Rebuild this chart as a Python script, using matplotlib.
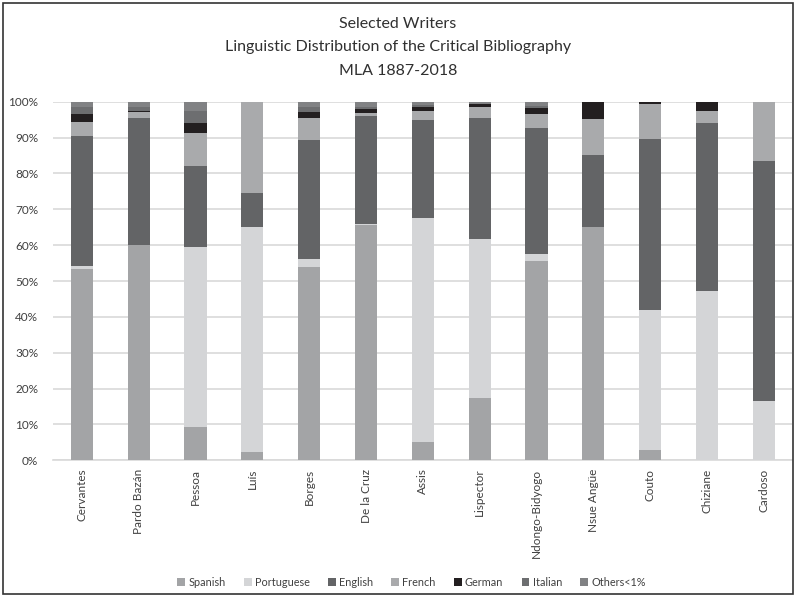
import numpy as np
import matplotlib
matplotlib.use("Agg")
import matplotlib.pyplot as plt
import matplotlib.patches as patches

plt.rcParams['font.family'] = ['Lato', 'DejaVu Sans']

writers = ["Cervantes", "Pardo Bazán", "Pessoa", "Luís", "Borges", "De la Cruz",
           "Assis", "Lispector", "Ndongo-Bidyogo", "Nsue Angüe", "Couto",
           "Chiziane", "Cardoso"]

# percent of the critical bibliography per language
spanish    = [53.4, 60.1,  9.4,  2.3, 53.9, 65.5,  5.0, 17.3, 55.6, 65.0,  2.9,  0.0,  0.0]
portuguese = [ 0.8,  0.0, 50.2, 62.7,  2.2,  0.4, 62.5, 44.5,  1.9,  0.0, 39.0, 47.1, 16.4]
english    = [36.3, 35.5, 22.5,  9.5, 33.1, 30.0, 27.5, 33.8, 35.3, 20.2, 47.7, 47.1, 67.0]
french     = [ 3.8,  1.4,  9.1, 25.5,  6.4,  0.9,  2.5,  2.8,  3.8, 10.0,  9.9,  3.1, 16.6]
german     = [ 2.3,  0.5,  2.9,  0.0,  1.4,  1.3,  1.1,  1.0,  1.6,  4.8,  0.5,  2.7,  0.0]
italian    = [ 1.8,  1.0,  3.4,  0.0,  1.4,  0.5,  0.4,  0.0,  0.5,  0.0,  0.0,  0.0,  0.0]
others     = [ 1.6,  1.5,  2.5,  0.0,  1.6,  1.4,  1.0,  0.6,  1.3,  0.0,  0.0,  0.0,  0.0]

series = [("Spanish", spanish, "#a3a4a6"),
          ("Portuguese", portuguese, "#d4d5d7"),
          ("English", english, "#636466"),
          ("French", french, "#a9aaac"),
          ("German", german, "#231f20"),
          ("Italian", italian, "#6d6e70"),
          ("Others<1%", others, "#818284")]

fig = plt.figure(figsize=(7.96, 5.97), dpi=100)
ax = fig.add_axes([0.0672, 0.229, 0.928, 0.6006])

x = np.arange(len(writers))
bottom = np.zeros(len(writers))
for name, vals, col in series:
    vals = np.array(vals) / 100.0
    ax.bar(x, vals, 0.39, bottom=bottom, color=col, label=name, zorder=3)
    bottom += vals

ax.set_xlim(-0.5, len(writers) - 0.5)
ax.set_ylim(0, 1)
ax.set_yticks(np.arange(0, 1.01, 0.1))
ax.set_yticklabels([f"{int(round(v * 100))}%" for v in np.arange(0, 1.01, 0.1)])
ax.set_xticks(x)
ax.set_xticklabels(writers, rotation=90)
ax.tick_params(axis='y', length=0, pad=11, labelsize=8.5, labelcolor='#404040')
ax.tick_params(axis='x', length=0, pad=6, labelsize=8.5, labelcolor='#404040')
ax.grid(axis='y', color='#d9d9d9', linewidth=1.2, zorder=0)
for s in ['top', 'right', 'left']:
    ax.spines[s].set_visible(False)
ax.spines['bottom'].set_color('#d9d9d9')
ax.spines['bottom'].set_linewidth(1.2)

title_lines = ["Selected Writers",
               "Linguistic Distribution of the Critical Bibliography",
               "MLA 1887-2018"]
for yy, line in zip([0.96, 0.921, 0.881], title_lines):
    fig.text(0.5, yy, line, ha='center', va='center', fontsize=11.5, color='#303030')

fig.legend(loc='center', bbox_to_anchor=(0.517, 0.025), ncol=7, frameon=False,
           fontsize=7.8, handlelength=0.7, handleheight=0.7, handletextpad=0.3,
           columnspacing=1.7, labelcolor='#404040')

# thin frame round the whole chart
fig.patches.append(patches.Rectangle((0.004, 0.005), 0.992, 0.99, transform=fig.transFigure,
                                     fill=False, edgecolor='#333333', linewidth=1.2))

fig.savefig("out.png", dpi=100)
